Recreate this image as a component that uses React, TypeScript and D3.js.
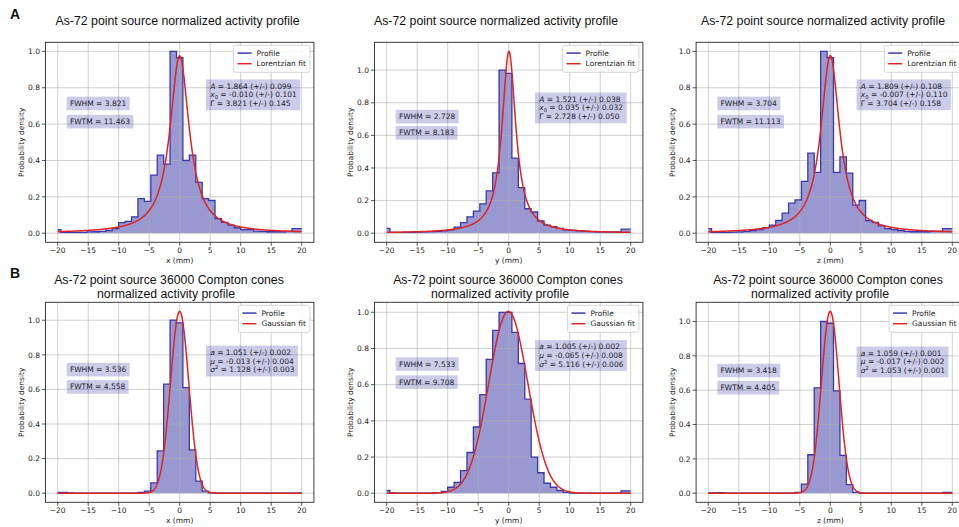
import React, { useEffect, useRef } from "react";
import * as d3 from "d3";

// ---------- DATA ----------
const binCenters = [-20, -18.95, -17.89, -16.84, -15.79, -14.74, -13.68, -12.63, -11.58, -10.53, -9.47, -8.42, -7.37, -6.32, -5.26, -4.21, -3.16, -2.11, -1.05, 0, 1.05, 2.11, 3.16, 4.21, 5.26, 6.32, 7.37, 8.42, 9.47, 10.53, 11.58, 12.63, 13.68, 14.74, 15.79, 16.84, 17.89, 18.95, 20];

const profileAx = [0.02, 0.005, 0.005, 0.005, 0.005, 0.007, 0.008, 0.01, 0.015, 0.025, 0.058, 0.065, 0.09, 0.19, 0.175, 0.32, 0.43, 0.38, 1.0, 0.965, 0.40, 0.43, 0.28, 0.19, 0.18, 0.08, 0.06, 0.045, 0.03, 0.02, 0.02, 0.012, 0.01, 0.008, 0.008, 0.008, 0.01, 0.025, 0.025];
const profileAy = [0.03, 0.005, 0.005, 0.005, 0.006, 0.007, 0.008, 0.01, 0.012, 0.015, 0.02, 0.037, 0.065, 0.10, 0.135, 0.18, 0.26, 0.37, 1.0, 0.98, 0.46, 0.28, 0.15, 0.13, 0.075, 0.05, 0.04, 0.03, 0.02, 0.017, 0.015, 0.012, 0.01, 0.008, 0.008, 0.008, 0.008, 0.025, 0.025];
const profileAz = [0.025, 0.005, 0.005, 0.005, 0.006, 0.007, 0.01, 0.015, 0.02, 0.03, 0.045, 0.07, 0.11, 0.165, 0.183, 0.285, 0.44, 0.335, 1.0, 0.965, 0.335, 0.42, 0.33, 0.155, 0.18, 0.07, 0.06, 0.04, 0.025, 0.02, 0.015, 0.01, 0.008, 0.008, 0.008, 0.01, 0.01, 0.025, 0.025];
const profileBx = [0.005, 0.004, 0.002, 0.001, 0.001, 0.001, 0.001, 0.001, 0.001, 0.001, 0.001, 0.001, 0.001, 0.005, 0.012, 0.06, 0.245, 0.63, 1.0, 0.985, 0.61, 0.25, 0.07, 0.012, 0.002, 0.001, 0.001, 0.001, 0.001, 0.001, 0.001, 0.001, 0.001, 0.001, 0.001, 0.001, 0.001, 0.001, 0.002];
const profileBy = [0.015, 0.002, 0.001, 0.001, 0.001, 0.001, 0.001, 0.001, 0.003, 0.01, 0.033, 0.06, 0.125, 0.225, 0.366, 0.545, 0.74, 0.9, 1.0, 1.0, 0.889, 0.717, 0.52, 0.2, 0.113, 0.055, 0.033, 0.015, 0.005, 0.001, 0.001, 0.001, 0.001, 0.001, 0.001, 0.001, 0.001, 0.013, 0.013];
const profileBz = [0.002, 0.002, 0.003, 0.001, 0.001, 0.001, 0.001, 0.001, 0.001, 0.001, 0.001, 0.001, 0.001, 0.001, 0.005, 0.053, 0.224, 0.614, 1.0, 0.99, 0.596, 0.22, 0.05, 0.005, 0.001, 0.001, 0.001, 0.001, 0.001, 0.001, 0.001, 0.001, 0.001, 0.001, 0.001, 0.001, 0.001, 0.004, 0.004];

const xTicks = [-20, -15, -10, -5, 0, 5, 10, 15, 20];
const yTicks = [0, 0.2, 0.4, 0.6, 0.8, 1.0];
const axisNames = ["x", "y", "z"];

const titleA = "As-72 point source normalized activity profile";
const titleB1 = "As-72 point source 36000 Compton cones";
const titleB2 = "normalized activity profile";

// Lorentzian fits (row A)
const lorA = [1.864, 1.521, 1.809];
const lorAErr = [0.099, 0.038, 0.108];
const lorX0 = [-0.010, 0.035, -0.007];
const lorX0Err = [0.101, 0.032, 0.110];
const lorGamma = [3.821, 2.728, 3.704];
const lorGammaErr = [0.145, 0.050, 0.158];
const fwhmA = [3.821, 2.728, 3.704];
const fwtmA = [11.463, 8.183, 11.113];

// Gaussian fits (row B)
const gauA = [1.051, 1.005, 1.059];
const gauAErr = [0.002, 0.002, 0.001];
const gauMu = [-0.013, -0.065, -0.017];
const gauMuErr = [0.004, 0.008, 0.002];
const gauS2 = [1.128, 5.116, 1.053];
const gauS2Err = [0.003, 0.006, 0.001];
const fwhmB = [3.536, 7.533, 3.418];
const fwtmB = [4.558, 9.708, 4.405];

// ---------- LAYOUT ----------
const W = 959, H = 527;
const COL_X20 = [57.7, 386.7, 708.3]; // pixel of x = -20
const PX_MM = 6.1;
const ROW_TOP = [42.3, 302.3];
const AX_H = 200;
const TITLE_CX_A = [177.5, 496, 823];
const TITLE_CX_B1 = [169, 508, 828];
const TITLE_CX_B2 = [166, 500, 820];
const SMALL = "'DejaVu Sans', sans-serif";
const TFONT = "'Liberation Sans', Arial, sans-serif";
const FS = 7.5;
const FILL = "#00008b";
const LINE_BLUE = "#3838b0";
const RED = "#e32222";

type Seg = { t: string; it?: boolean; sub?: boolean; sup?: boolean };

const f3 = (v: number) => v.toFixed(3);

function boxedText(g: any, xPix: number, yPix: number, lines: Seg[][], lineH: number) {
  const grp = g.append("g");
  const txt = grp.append("text").attr("font-family", SMALL).attr("font-size", FS).attr("fill", "#1c1c30");
  lines.forEach((segs, i) => {
    const yy = yPix - (lines.length - 1 - i) * lineH;
    let shift = 0;
    segs.forEach((s, j) => {
      const ts = txt.append("tspan").text(s.t);
      if (j === 0) ts.attr("x", xPix).attr("y", yy);
      let target = 0;
      if (s.sub) target = 1.8;
      if (s.sup) target = -3;
      if (target !== shift) { ts.attr("dy", target - shift); shift = target; }
      if (s.it) ts.attr("font-style", "italic");
      if (s.sub || s.sup) ts.attr("font-size", FS * 0.7);
    });
  });
  const bb = (grp.node() as SVGGElement).getBBox();
  grp.insert("rect", "text")
    .attr("x", bb.x - 3.2).attr("y", bb.y - 2.3)
    .attr("width", bb.width + 6.4).attr("height", bb.height + 4.6)
    .attr("fill", FILL).attr("fill-opacity", 0.2);
}

function drawPanel(svg: any, row: number, col: number) {
  const profile = [[profileAx, profileAy, profileAz], [profileBx, profileBy, profileBz]][row][col];
  const left = COL_X20[col] - 2 * PX_MM;
  const right = COL_X20[col] + 42 * PX_MM;
  const top = ROW_TOP[row];
  const bottom = top + AX_H;
  const x = d3.scaleLinear().domain([-22, 22]).range([left, right]);

  const fit = (v: number) => {
    if (row === 0) {
      const g = lorGamma[col];
      const u = (2 * (v - lorX0[col])) / g;
      return (2 * lorA[col] / g) / (1 + u * u);
    }
    return gauA[col] * Math.exp(-((v - gauMu[col]) ** 2) / (4 * gauS2[col]));
  };
  const fitXs = d3.range(-20, 20.0001, 0.05);
  const fitPts: [number, number][] = fitXs.map((v) => [v, fit(v)]);
  const ymax = Math.max(d3.max(profile) as number, d3.max(fitPts, (d) => d[1]) as number);
  const y = d3.scaleLinear().domain([-0.05 * ymax, 1.05 * ymax]).range([bottom, top]);

  const g = svg.append("g");
  const pts: [number, number][] = binCenters.map((c, i) => [c, profile[i]]);

  // fill
  g.append("path")
    .attr("d", d3.area<[number, number]>().curve(d3.curveStep).x((d) => x(d[0])).y0(y(0)).y1((d) => y(d[1]))(pts))
    .attr("fill", FILL).attr("fill-opacity", 0.4);

  // grid
  const grid = g.append("g").attr("stroke", "#b0b0b0").attr("stroke-width", 0.8).attr("stroke-opacity", 0.75);
  xTicks.forEach((t) => grid.append("line").attr("x1", x(t)).attr("x2", x(t)).attr("y1", top).attr("y2", bottom));
  yTicks.forEach((t) => grid.append("line").attr("x1", left).attr("x2", right).attr("y1", y(t)).attr("y2", y(t)));

  // profile line
  g.append("path")
    .attr("d", d3.line<[number, number]>().curve(d3.curveStep).x((d) => x(d[0])).y((d) => y(d[1]))(pts))
    .attr("fill", "none").attr("stroke", LINE_BLUE).attr("stroke-width", 1.3);

  // fit line
  g.append("path")
    .attr("d", d3.line<[number, number]>().x((d) => x(d[0])).y((d) => y(d[1]))(fitPts))
    .attr("fill", "none").attr("stroke", RED).attr("stroke-width", 1.5);

  // spines
  g.append("rect").attr("x", left).attr("y", top).attr("width", right - left).attr("height", bottom - top)
    .attr("fill", "none").attr("stroke", "#2a2a2a").attr("stroke-width", 0.9);

  // ticks
  const tk = g.append("g").attr("stroke", "#2a2a2a").attr("stroke-width", 0.8);
  xTicks.forEach((t) => tk.append("line").attr("x1", x(t)).attr("x2", x(t)).attr("y1", bottom).attr("y2", bottom + 3.5));
  yTicks.forEach((t) => tk.append("line").attr("x1", left - 3.5).attr("x2", left).attr("y1", y(t)).attr("y2", y(t)));
  const tl = g.append("g").attr("font-family", SMALL).attr("font-size", FS).attr("fill", "#222");
  xTicks.forEach((t) => tl.append("text").attr("x", x(t)).attr("y", bottom + 11).attr("text-anchor", "middle")
    .text(t < 0 ? "\u2212" + Math.abs(t) : String(t)));
  yTicks.forEach((t) => tl.append("text").attr("x", left - 5.5).attr("y", y(t) + 2.7).attr("text-anchor", "end").text(t.toFixed(1)));

  // axis labels
  tl.append("text").attr("x", (left + right) / 2).attr("y", bottom + 21).attr("text-anchor", "middle")
    .text(`${axisNames[col]} (mm)`);
  tl.append("text").attr("transform", `translate(${left - 21.3},${(top + bottom) / 2}) rotate(-90)`)
    .attr("text-anchor", "middle").text("Probability density");

  // titles
  const tt = g.append("g").attr("font-family", TFONT).attr("font-size", 12.3).attr("fill", "#111").attr("text-anchor", "middle");
  if (row === 0) {
    tt.append("text").attr("x", TITLE_CX_A[col]).attr("y", 25).text(titleA);
  } else {
    tt.append("text").attr("x", TITLE_CX_B1[col]).attr("y", 284).text(titleB1);
    tt.append("text").attr("x", TITLE_CX_B2[col]).attr("y", 298).text(titleB2);
  }

  // text boxes
  const fwhm = row === 0 ? fwhmA[col] : fwhmB[col];
  const fwtm = row === 0 ? fwtmA[col] : fwtmB[col];
  boxedText(g, x(-18), y(0.7), [[{ t: `FWHM = ${f3(fwhm)}` }]], 8.6);
  boxedText(g, x(-18), y(0.6), [[{ t: `FWTM = ${f3(fwtm)}` }]], 8.6);
  const params: Seg[][] = row === 0
    ? [
        [{ t: "A", it: true }, { t: ` = ${f3(lorA[col])} (+/-) ${f3(lorAErr[col])}` }],
        [{ t: "x", it: true }, { t: "0", sub: true }, { t: ` = ${f3(lorX0[col])} (+/-) ${f3(lorX0Err[col])}` }],
        [{ t: "\u0393" }, { t: ` = ${f3(lorGamma[col])} (+/-) ${f3(lorGammaErr[col])}` }],
      ]
    : [
        [{ t: "a", it: true }, { t: ` = ${f3(gauA[col])} (+/-) ${f3(gauAErr[col])}` }],
        [{ t: "\u03bc", it: true }, { t: ` = ${f3(gauMu[col])} (+/-) ${f3(gauMuErr[col])}` }],
        [{ t: "\u03c3", it: true }, { t: "2", sup: true }, { t: ` = ${f3(gauS2[col])} (+/-) ${f3(gauS2Err[col])}` }],
      ];
  boxedText(g, x(5), y(0.7), params, 8.6);

  // legend
  const labels = ["Profile", row === 0 ? "Lorentzian fit" : "Gaussian fit"];
  const colors = [LINE_BLUE, RED];
  const lg = g.append("g");
  const lbox = lg.append("rect");
  const texts: SVGTextElement[] = [];
  labels.forEach((l) => {
    const t = lg.append("text").attr("font-family", SMALL).attr("font-size", FS).attr("fill", "#222").text(l);
    texts.push(t.node() as SVGTextElement);
  });
  const tw = d3.max(texts, (t) => t.getComputedTextLength()) as number;
  const lw = tw + 27;
  const lx = right - 4 - lw;
  const ly = top + 3;
  lbox.attr("x", lx).attr("y", ly).attr("width", lw).attr("height", 27).attr("rx", 2)
    .attr("fill", "#fff").attr("fill-opacity", 0.85).attr("stroke", "#cccccc").attr("stroke-width", 0.8);
  labels.forEach((l, i) => {
    const cy = ly + 7.8 + i * 10.6;
    lg.append("line").attr("x1", lx + 4).attr("x2", lx + 18).attr("y1", cy).attr("y2", cy)
      .attr("stroke", colors[i]).attr("stroke-width", 1.5);
    d3.select(texts[i]).attr("x", lx + 23).attr("y", cy + 2.7);
  });
}

export default function App() {
  const ref = useRef<SVGSVGElement>(null);
  useEffect(() => {
    const svg = d3.select(ref.current);
    svg.selectAll("*").remove();
    svg.append("rect").attr("width", W).attr("height", H).attr("fill", "#fff");
    [0, 1].forEach((r) => [0, 1, 2].forEach((c) => drawPanel(svg, r, c)));
    svg.append("text").attr("x", 10).attr("y", 18.5).attr("font-family", TFONT).attr("font-weight", "bold")
      .attr("font-size", 14).attr("fill", "#111").text("A");
    svg.append("text").attr("x", 10).attr("y", 277.5).attr("font-family", TFONT).attr("font-weight", "bold")
      .attr("font-size", 14).attr("fill", "#111").text("B");
  }, []);
  return (
    <svg ref={ref} width={W} height={H} style={{ position: "absolute", left: 0, top: 0, display: "block" }} />
  );
}
